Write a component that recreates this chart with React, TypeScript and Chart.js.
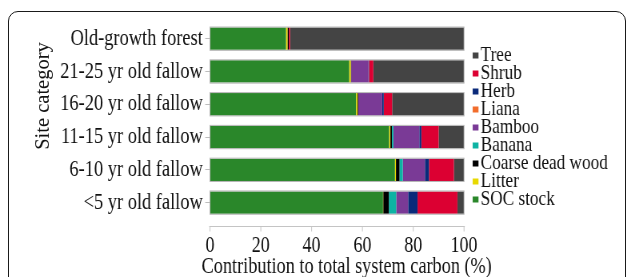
import React, { useEffect, useRef } from 'react';
import { Chart, registerables } from 'chart.js';

Chart.register(...registerables);

// ---- data ----
const categories = [
  'Old-growth forest',
  '21-25 yr old fallow',
  '16-20 yr old fallow',
  '11-15 yr old fallow',
  '6-10 yr old fallow',
  '<5 yr old fallow',
];
const socStock = [29.9, 54.8, 57.5, 70.5, 72.8, 68.1];
const litter = [0.6, 0.6, 0.6, 0.5, 0.4, 0.1];
const coarseDeadWood = [0.5, 0.2, 0.3, 0.6, 1.4, 2.2];
const banana = [0, 0, 0, 0.6, 1.3, 2.9];
const bamboo = [0, 6.8, 9.4, 10.2, 8.7, 4.7];
const liana = [0, 0, 0, 0, 0, 0];
const herb = [0, 0.2, 0.6, 0.8, 1.6, 3.7];
const shrub = [0.5, 1.7, 3.3, 6.8, 9.8, 15.7];
const tree = [68.5, 35.7, 28.3, 10.0, 4.0, 2.6];
const xTickValues = [0, 20, 40, 60, 80, 100];

const seriesNames = ['SOC stock', 'Litter', 'Coarse dead wood', 'Banana', 'Bamboo', 'Liana', 'Herb', 'Shrub', 'Tree'];
const seriesData = [socStock, litter, coarseDeadWood, banana, bamboo, liana, herb, shrub, tree];
const seriesColors = ['#2a872a', '#e8d900', '#000000', '#0db3a3', '#7a3a96', '#f26d2c', '#0a2a7a', '#dc0032', '#444444'];

const xTitle = 'Contribution to total system carbon (%)';
const yTitle = 'Site category';

// ---- layout (page px) ----
const PAGE_W = 627;
const PAGE_H = 277;
const CANVAS_W = 784; // drawn wider, shown condensed like the reference
const K = PAGE_W / CANVAS_W;
const FONT = '"Liberation Serif", "Times New Roman", serif';

const decorPlugin = {
  id: 'decor',
  afterDatasetsDraw(chart: any) {
    const ctx = chart.ctx;
    const xs = chart.scales.x;
    const meta = chart.getDatasetMeta(0);
    ctx.save();
    ctx.strokeStyle = '#b4b4b4';
    ctx.lineWidth = 1;
    meta.data.forEach((bar: any, i: number) => {
      const total = seriesData.reduce((a, s) => a + s[i], 0);
      const x0 = xs.getPixelForValue(0);
      const x1 = xs.getPixelForValue(total);
      const top = bar.y - bar.height / 2;
      ctx.strokeRect(x0, top - 0.5, x1 - x0, bar.height + 1);
    });
    ctx.restore();
  },
  afterDraw(chart: any) {
    const ctx = chart.ctx;
    const xs = chart.scales.x;
    const area = chart.chartArea;
    ctx.save();
    // x axis line + tick marks
    const axisY = area.bottom + 7.5;
    ctx.strokeStyle = '#c4c4c4';
    ctx.lineWidth = 1;
    ctx.beginPath();
    ctx.moveTo(xs.getPixelForValue(0) - 1, axisY);
    ctx.lineTo(xs.getPixelForValue(100) + 1, axisY);
    xTickValues.forEach((v) => {
      const px = xs.getPixelForValue(v);
      ctx.moveTo(px, axisY);
      ctx.lineTo(px, axisY + 5);
    });
    ctx.stroke();

    // x title
    ctx.fillStyle = '#111';
    ctx.font = `22.8px ${FONT}`;
    ctx.textAlign = 'center';
    ctx.textBaseline = 'alphabetic';
    ctx.fillText(xTitle, 346.7 / K, 273.3);

    // y title (not condensed)
    ctx.save();
    ctx.translate(43 / K, 96);
    ctx.scale(1 / K, 1);
    ctx.rotate(-Math.PI / 2);
    ctx.font = `20.5px ${FONT}`;
    ctx.textAlign = 'center';
    ctx.textBaseline = 'middle';
    ctx.fillText(yTitle, 0, 0);
    ctx.restore();

    // legend (reverse order: Tree on top)
    ctx.font = `21.5px ${FONT}`;
    ctx.textAlign = 'left';
    ctx.textBaseline = 'alphabetic';
    for (let i = 0; i < seriesNames.length; i++) {
      const idx = seriesNames.length - 1 - i;
      const cy = 55.5 + 18 * i;
      ctx.fillStyle = seriesColors[idx];
      ctx.fillRect(472.7 / K, cy - 3, 5.8 / K, 6);
      ctx.fillStyle = '#111';
      ctx.fillText(seriesNames[idx], 480.7 / K, cy + 5.5);
    }
    ctx.restore();
  },
};

export default function App() {
  const canvasRef = useRef<HTMLCanvasElement | null>(null);

  useEffect(() => {
    if (!canvasRef.current) return;
    const chart = new Chart(canvasRef.current, {
      type: 'bar',
      data: {
        labels: categories,
        datasets: seriesNames.map((name, i) => ({
          label: name,
          data: seriesData[i],
          backgroundColor: seriesColors[i],
          borderWidth: 0,
          barPercentage: 0.68,
          categoryPercentage: 1,
        })),
      },
      options: {
        indexAxis: 'y',
        responsive: false,
        animation: false,
        devicePixelRatio: 1,
        layout: { padding: { left: 0, right: CANVAS_W - 464 / K, top: 22.3, bottom: 0 } },
        plugins: {
          legend: { display: false },
          tooltip: { enabled: false },
        },
        scales: {
          x: {
            stacked: true,
            min: 0,
            max: 100,
            afterBuildTicks: (s: any) => {
              s.ticks = xTickValues.map((v) => ({ value: v }));
            },
            grid: { display: false },
            border: { display: false },
            ticks: {
              font: { family: FONT, size: 22.5 },
              color: '#111',
              padding: 6,
              maxRotation: 0,
              autoSkip: false,
            },
            afterFit: (s: any) => {
              s.height = PAGE_H - 219;
            },
          },
          y: {
            stacked: true,
            grid: {
              drawOnChartArea: false,
              offset: false,
              tickLength: 6,
              color: '#bdbdbd',
            },
            border: { display: false },
            ticks: {
              font: { family: FONT, size: 23 },
              color: '#111',
              padding: 3,
              autoSkip: false,
            },
            afterFit: (s: any) => {
              s.width = 210 / K;
            },
          },
        },
      },
      plugins: [decorPlugin],
    } as any);
    return () => chart.destroy();
  }, []);

  return (
    <div
      style={{
        position: 'fixed',
        left: 0,
        top: 0,
        width: PAGE_W,
        height: PAGE_H,
        overflow: 'hidden',
        background: '#fff',
      }}
    >
      <div
        style={{
          position: 'absolute',
          left: 8,
          top: 11,
          width: 618,
          height: 300,
          border: '1.5px solid #1a1a1a',
          borderRadius: 10,
          boxSizing: 'border-box',
        }}
      />
      <canvas
        ref={canvasRef}
        width={CANVAS_W}
        height={PAGE_H}
        style={{ position: 'absolute', left: 0, top: 0, width: PAGE_W + 'px', height: PAGE_H + 'px' }}
      />
    </div>
  );
}
